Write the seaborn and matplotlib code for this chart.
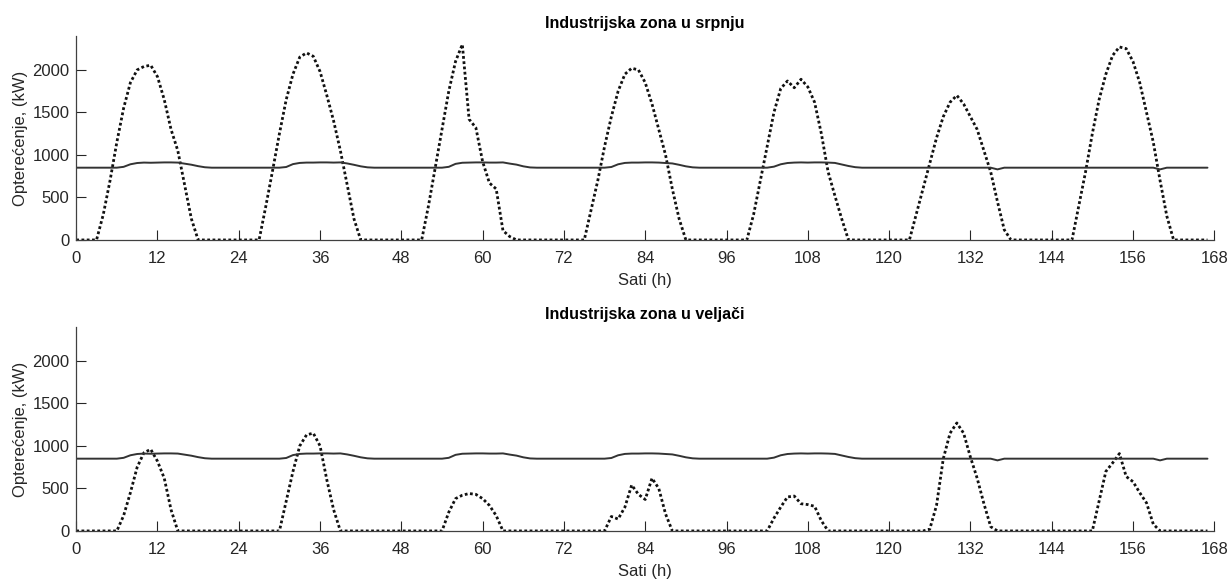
import numpy as np
import matplotlib
matplotlib.use("Agg")
import matplotlib.pyplot as plt
import seaborn as sns

# --- Configuration ---
sns.set_style("ticks")
plt.rcParams['font.family'] = ['Liberation Sans', 'DejaVu Sans']

# --- Data (hourly values, one week) ---
sati = list(range(168))

# PV proizvodnja, srpanj (kW) - one row per day
pv_srpanj = (
    [0, 0, 0, 0, 300, 700, 1150, 1550, 1850, 2000, 2040, 2055, 1920, 1650, 1300, 1050, 650, 250, 0, 0, 0, 0, 0, 0]
    + [0, 0, 0, 0, 400, 820, 1250, 1650, 1950, 2150, 2200, 2160, 1980, 1700, 1400, 1050, 650, 250, 0, 0, 0, 0, 0, 0]
    + [0, 0, 0, 0, 400, 850, 1300, 1750, 2100, 2300, 1420, 1320, 920, 670, 600, 110, 40, 0, 0, 0, 0, 0, 0, 0]
    + [0, 0, 0, 0, 350, 700, 1100, 1450, 1750, 1950, 2020, 2000, 1850, 1600, 1300, 1000, 600, 250, 0, 0, 0, 0, 0, 0]
    + [0, 0, 0, 0, 300, 700, 1100, 1500, 1780, 1870, 1790, 1890, 1800, 1620, 1250, 800, 520, 250, 0, 0, 0, 0, 0, 0]
    + [0, 0, 0, 0, 300, 600, 900, 1200, 1450, 1620, 1700, 1600, 1450, 1300, 1050, 800, 450, 120, 0, 0, 0, 0, 0, 0]
    + [0, 0, 0, 0, 400, 800, 1250, 1650, 1950, 2170, 2270, 2250, 2100, 1850, 1500, 1150, 700, 280, 0, 0, 0, 0, 0, 0]
)

# PV proizvodnja, veljaca (kW)
pv_veljaca = (
    [0, 0, 0, 0, 0, 0, 0, 180, 450, 750, 920, 960, 820, 620, 250, 0, 0, 0, 0, 0, 0, 0, 0, 0]
    + [0, 0, 0, 0, 0, 0, 0, 350, 700, 1000, 1130, 1150, 1000, 600, 250, 0, 0, 0, 0, 0, 0, 0, 0, 0]
    + [0, 0, 0, 0, 0, 0, 0, 220, 380, 420, 440, 430, 380, 300, 180, 0, 0, 0, 0, 0, 0, 0, 0, 0]
    + [0, 0, 0, 0, 0, 0, 0, 170, 140, 280, 540, 430, 370, 620, 500, 200, 0, 0, 0, 0, 0, 0, 0, 0]
    + [0, 0, 0, 0, 0, 0, 0, 150, 280, 400, 410, 320, 310, 290, 120, 0, 0, 0, 0, 0, 0, 0, 0, 0]
    + [0, 0, 0, 0, 0, 0, 20, 300, 850, 1150, 1270, 1150, 870, 620, 320, 50, 0, 0, 0, 0, 0, 0, 0, 0]
    + [0, 0, 0, 0, 0, 0, 0, 350, 700, 800, 910, 640, 580, 450, 330, 80, 0, 0, 0, 0, 0, 0, 0, 0]
)

# Opterecenje industrijske zone (kW), isto za oba mjeseca
opterecenje = (
    [850, 850, 850, 850, 850, 850, 850, 860, 890, 905, 910, 908, 910, 912, 912, 910, 898, 885, 868, 855, 850, 850, 850, 850]
    + [850, 850, 850, 850, 850, 850, 850, 858, 892, 906, 910, 910, 912, 912, 910, 912, 900, 884, 866, 854, 850, 850, 850, 850]
    + [850, 850, 850, 850, 850, 850, 850, 860, 895, 908, 910, 912, 912, 910, 910, 912, 898, 886, 866, 853, 850, 850, 850, 850]
    + [850, 850, 850, 850, 850, 850, 850, 858, 890, 906, 910, 910, 912, 912, 910, 905, 900, 884, 866, 854, 850, 850, 850, 850]
    + [850, 850, 850, 850, 850, 850, 850, 862, 890, 905, 910, 912, 910, 912, 912, 910, 906, 888, 870, 856, 850, 850, 850, 850]
    + [850, 850, 850, 850, 850, 850, 850, 850, 850, 850, 850, 850, 850, 850, 850, 850, 830, 850, 850, 850, 850, 850, 850, 850]
    + [850, 850, 850, 850, 850, 850, 850, 850, 850, 850, 850, 850, 850, 850, 850, 850, 830, 850, 850, 850, 850, 850, 850, 850]
)

naslovi = ['Industrijska zona u srpnju', 'Industrijska zona u veljači']
pv_serije = [pv_srpanj, pv_veljaca]

x_ticks = list(range(0, 169, 12))
y_ticks = [0, 500, 1000, 1500, 2000]

# --- Plot ---
tekst = '#262626'
fig, axes = plt.subplots(2, 1, figsize=(12.29, 5.79), dpi=100)
fig.subplots_adjust(left=0.062, right=0.988, top=0.938, bottom=0.083, hspace=0.426)

for ax, naslov, pv in zip(axes, naslovi, pv_serije):
    sns.lineplot(x=sati, y=pv, ax=ax, color='#111111', linewidth=2.0,
                 linestyle=(0, (1, 0.9)))
    sns.lineplot(x=sati, y=opterecenje, ax=ax, color='#333333', linewidth=1.4)

    ax.set_xlim(0, 168)
    ax.set_ylim(0, 2400)
    ax.set_xticks(x_ticks)
    ax.set_yticks(y_ticks)
    ax.tick_params(direction='in', length=7.5, width=0.8, colors=tekst,
                   labelsize=12)
    ax.tick_params(axis='x', pad=8)
    ax.tick_params(axis='y', pad=5)
    for s in ['top', 'right']:
        ax.spines[s].set_visible(False)
    for s in ['left', 'bottom']:
        ax.spines[s].set_color('#404040')
        ax.spines[s].set_linewidth(0.9)

    ax.set_title(naslov, fontsize=11.5, fontweight='bold', color='black', pad=6)
    ax.set_xlabel('Sati (h)', fontsize=12, color=tekst, labelpad=5)
    ax.set_ylabel('Opterećenje, (kW)', fontsize=12, color=tekst, labelpad=3)

plt.savefig('out.png', dpi=100)
